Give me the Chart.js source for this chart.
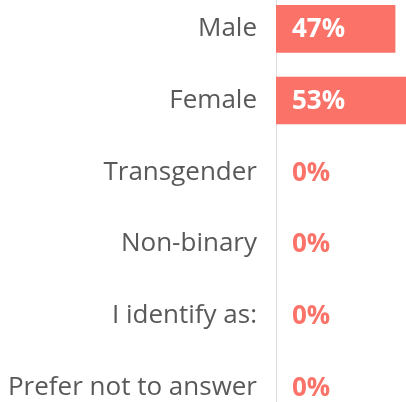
<!DOCTYPE html>
<html>
<head>
<meta charset="utf-8">
<script src="https://cdn.jsdelivr.net/npm/chart.js@4"></script>
<style>
  html, body { margin: 0; padding: 0; background: #fff; overflow: hidden; }
  body { width: 406px; height: 402px; position: relative; }
  .wrap { position: absolute; left: 0; top: -7px; width: 428px; height: 430px; }
</style>
</head>
<body>
<div class="wrap"><canvas id="myChart"></canvas></div>
<script>
var categories = ['Male', 'Female', 'Transgender', 'Non-binary', 'I identify as:', 'Prefer not to answer'];
var percentValues = [47, 53, 0, 0, 0, 0];
var barColor = '#fa7268';
var labelColor = '#595959';
var fontName = "'Open Sans', 'Noto Sans', sans-serif";

// writes the % figure at the start of each bar
var valueLabels = {
  id: 'valueLabels',
  afterDatasetsDraw: function(chart) {
    var ctx = chart.ctx;
    var meta = chart.getDatasetMeta(0);
    ctx.save();
    ctx.font = 'bold 26px ' + fontName;
    ctx.textAlign = 'left';
    ctx.textBaseline = 'middle';
    meta.data.forEach(function(bar, i) {
      var v = percentValues[i];
      ctx.fillStyle = v > 0 ? '#ffffff' : barColor;
      ctx.fillText(v + '%', chart.chartArea.left + 16, bar.y + 1);
    });
    ctx.restore();
  }
};

var ctx = document.getElementById('myChart').getContext('2d');
var myChart = new Chart(ctx, {
  type: 'bar',
  data: {
    labels: categories,
    datasets: [{
      data: percentValues,
      backgroundColor: function(c) { return c.raw > 0 ? barColor : 'rgba(0,0,0,0)'; },
      borderWidth: 0,
      barThickness: 47
    }]
  },
  options: {
    indexAxis: 'y',
    responsive: true,
    maintainAspectRatio: false,
    animation: false,
    layout: { padding: 0 },
    plugins: {
      legend: { display: false },
      tooltip: { enabled: false }
    },
    scales: {
      x: {
        display: false,
        min: 0,
        max: 60
      },
      y: {
        afterFit: function(scale) {
          scale.width = 276;
          scale.paddingTop = 0;
          scale.paddingBottom = 0;
        },
        grid: { display: false, drawTicks: false },
        border: { display: true, color: '#dcdcdc', width: 1 },
        ticks: {
          padding: 19,
          color: labelColor,
          font: { family: fontName, size: 26 }
        }
      }
    }
  },
  plugins: [valueLabels]
});
</script>
</body>
</html>
